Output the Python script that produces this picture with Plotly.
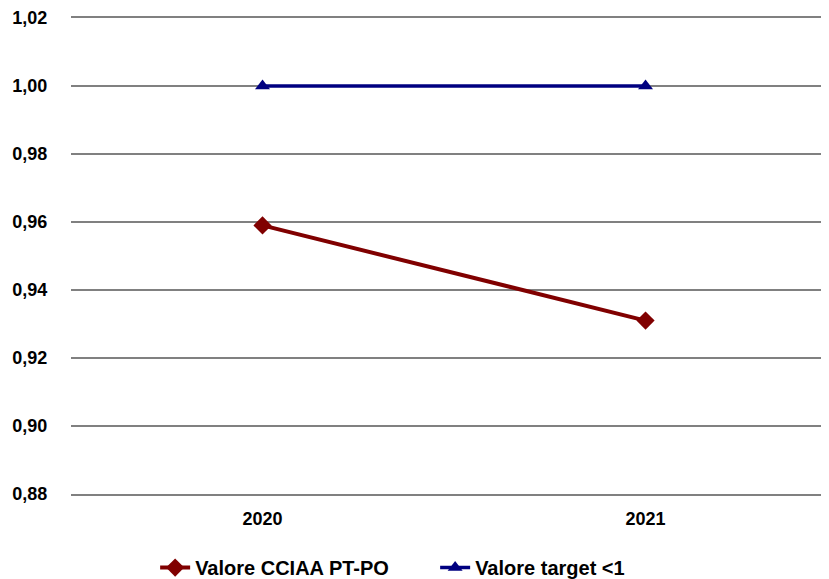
import plotly.graph_objects as go

anni = ["2020", "2021"]
valore_cciaa = [0.959, 0.931]
valore_target = [1.00, 1.00]
tick_vals = [0.88, 0.90, 0.92, 0.94, 0.96, 0.98, 1.00, 1.02]
tick_text = ["0,88", "0,90", "0,92", "0,94", "0,96", "0,98", "1,00", "1,02"]

fig = go.Figure()
fig.add_trace(go.Scatter(
    x=anni, y=valore_cciaa, name="Valore CCIAA PT-PO",
    mode="lines+markers",
    line=dict(color="#800000", width=4),
    marker=dict(symbol="diamond", size=14, color="#800000")))
fig.add_trace(go.Scatter(
    x=anni, y=valore_target, name="Valore target <1",
    mode="lines+markers",
    line=dict(color="#000080", width=3.5),
    marker=dict(symbol="triangle-up", size=13, color="#000080")))

bold = dict(family="Liberation Sans", size=18, color="black", weight="bold")

# the page body has an 8px margin, so the figure is 8px smaller than the window
fig.update_layout(
    width=821, height=571,
    margin=dict(l=63, r=0, t=10, b=85, autoexpand=False),
    plot_bgcolor="white", paper_bgcolor="white",
    font=dict(family="Liberation Sans", size=14, color="black"),
    showlegend=True,
    legend=dict(orientation="h", x=0.111, xanchor="left", y=-0.1135, yanchor="top",
                entrywidth=235, entrywidthmode="pixels",
                font=dict(family="Liberation Sans", size=20, color="black", weight="bold")),
    xaxis=dict(type="category", range=[-0.5, 1.479], showgrid=False, zeroline=False,
               showline=True, mirror=True, linecolor="#808080", linewidth=1.5,
               automargin=False,
               ticks="outside", ticklen=8, tickcolor="rgba(0,0,0,0)", tickfont=bold),
    yaxis=dict(range=[0.88, 1.02], tickvals=tick_vals, ticktext=tick_text,
               showgrid=True, gridcolor="#808080", gridwidth=1.5, zeroline=False,
               showline=False, automargin=False,
               ticks="outside", ticklen=19, tickcolor="rgba(0,0,0,0)", tickfont=bold),
)

fig.write_html("out.html")
